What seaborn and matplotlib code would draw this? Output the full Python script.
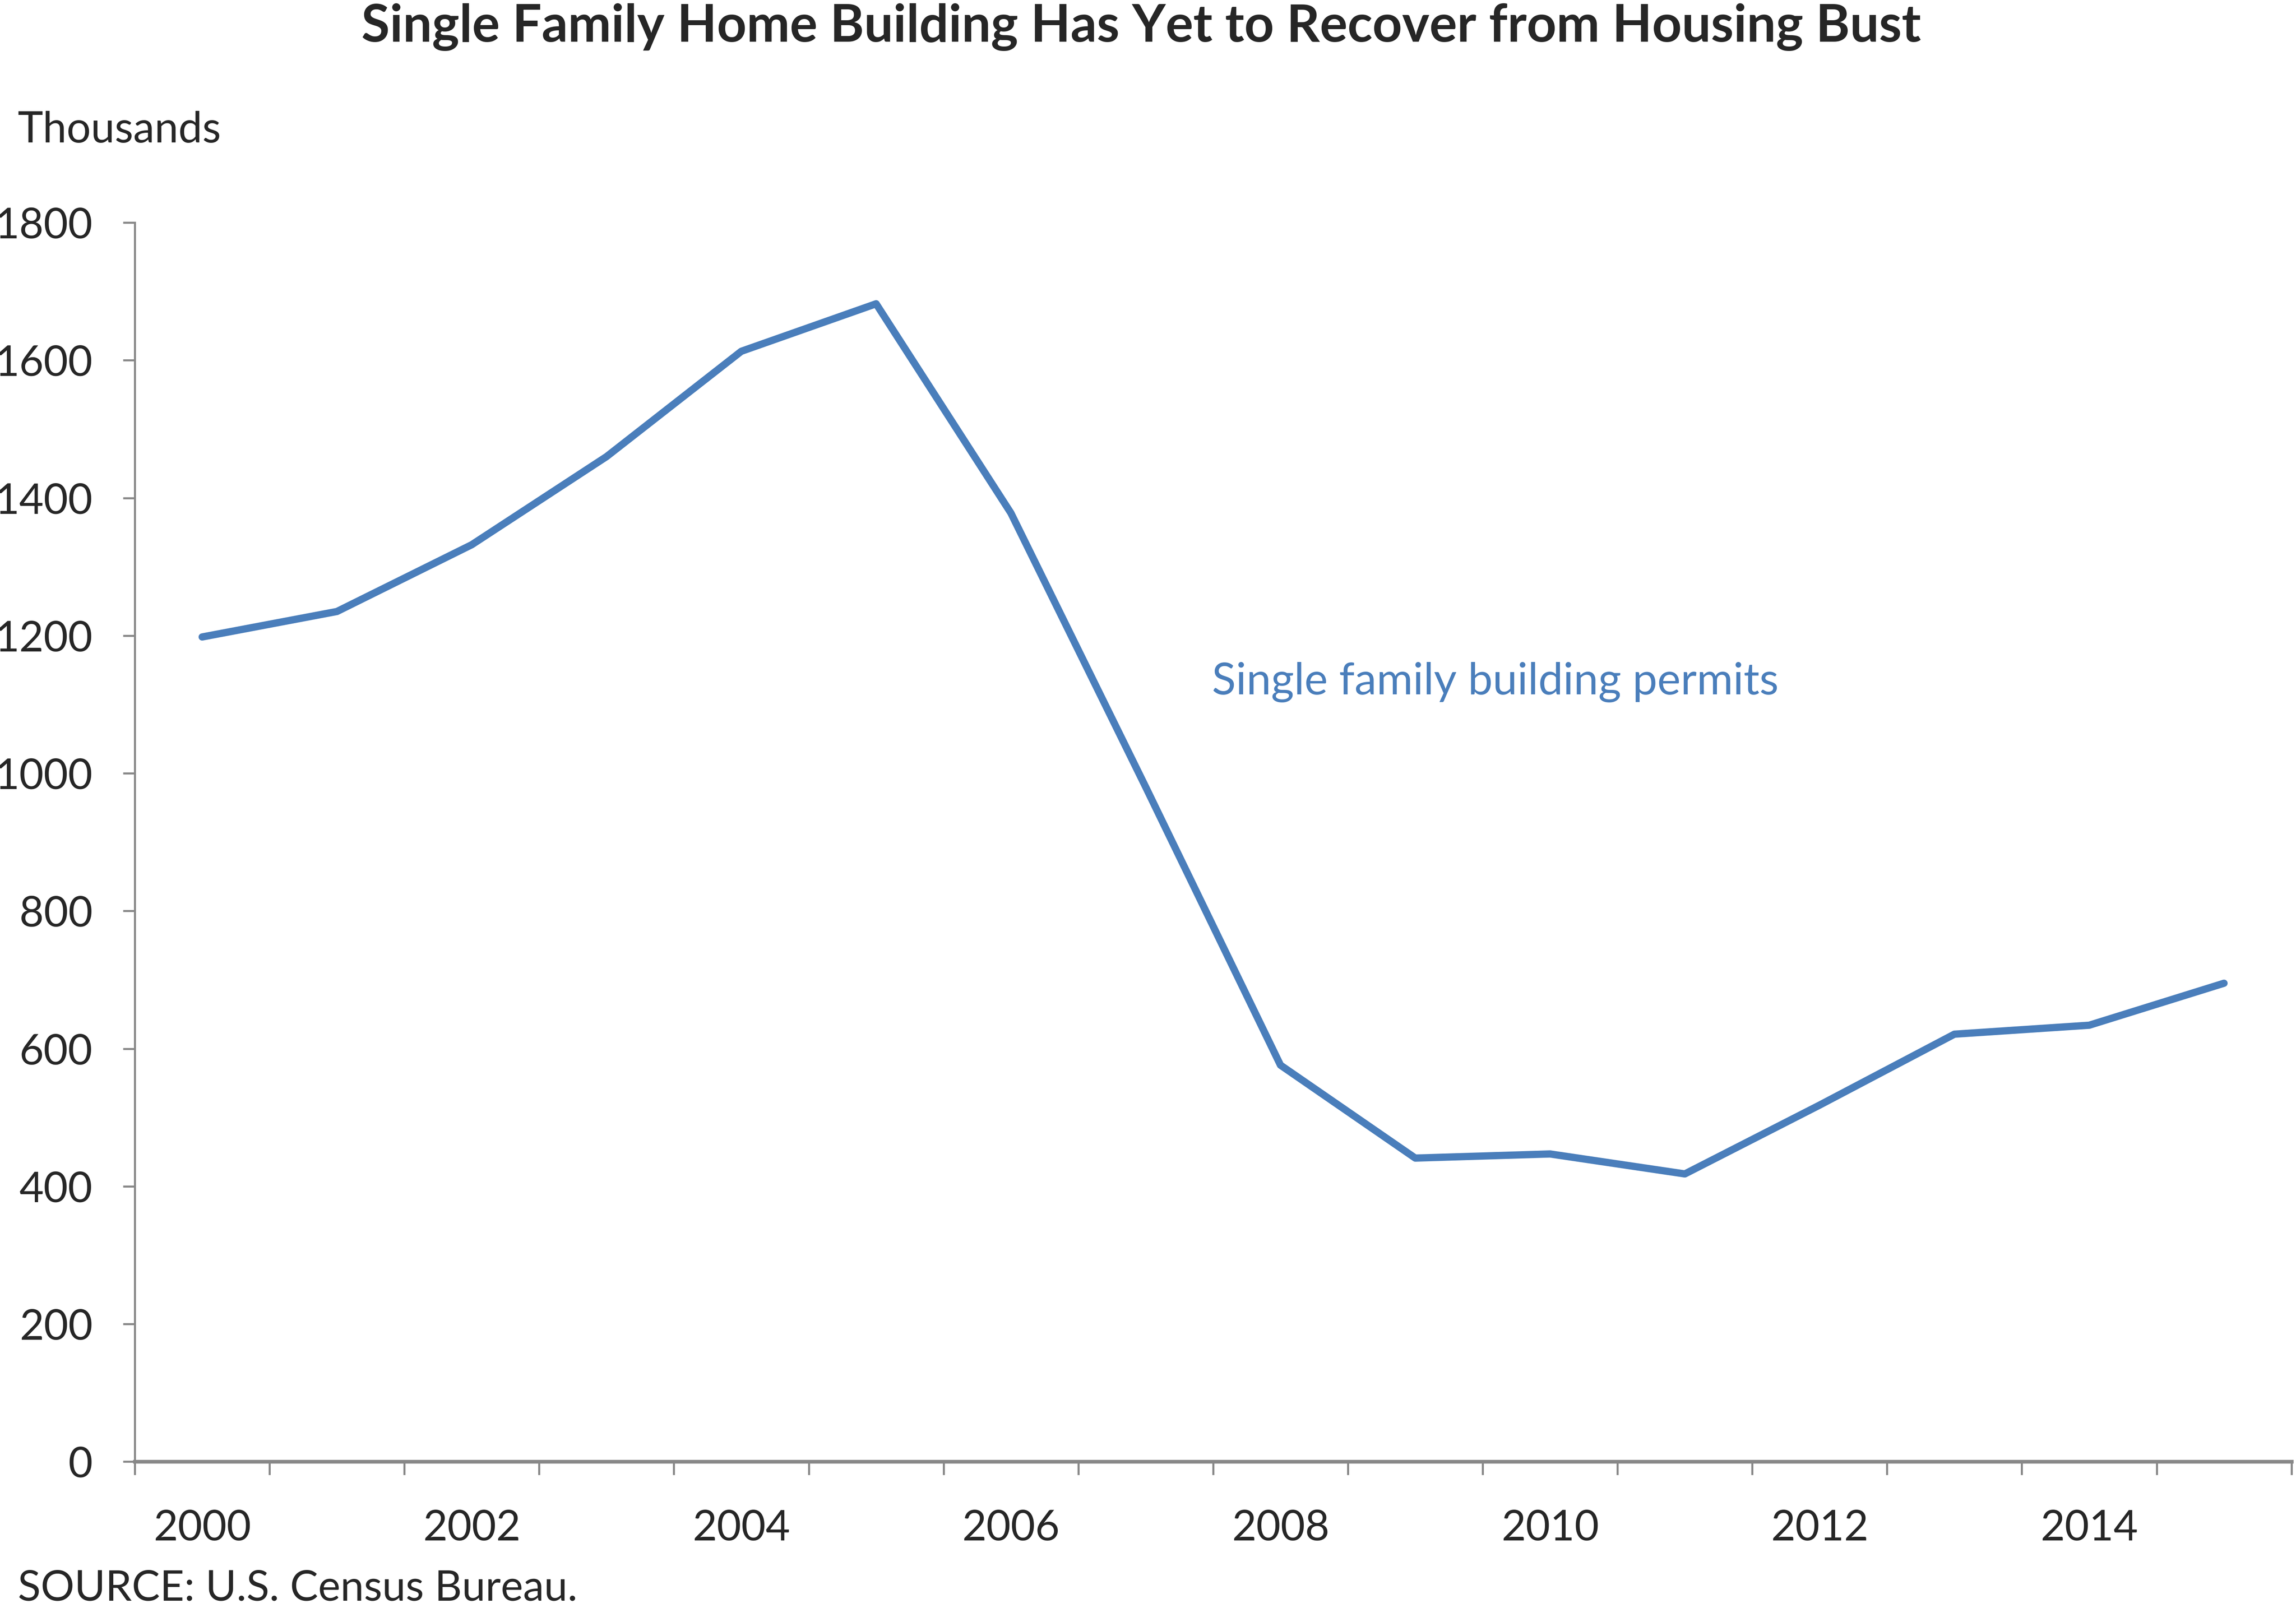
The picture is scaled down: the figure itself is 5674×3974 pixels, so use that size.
import numpy as np
import pandas as pd
import seaborn as sns
import matplotlib.pyplot as plt
import matplotlib.ticker as ticker

# Data: single family building permits, thousands
years = [2000, 2001, 2002, 2003, 2004, 2005, 2006, 2007,
         2008, 2009, 2010, 2011, 2012, 2013, 2014, 2015]
permits = [1198, 1235, 1332, 1460, 1613, 1682, 1378, 980,
           576, 441, 447, 418, 518, 621, 634, 695]
year_labels = ['2000', '2002', '2004', '2006', '2008', '2010', '2012', '2014']

df = pd.DataFrame({'Year': years, 'Permits': permits})

sns.set_style('white')
plt.rcParams['font.family'] = ['Lato', 'DejaVu Sans']

line_color = '#4a7ebb'
axis_color = '#888888'

fig = plt.figure(figsize=(5674 / 300, 3974 / 300), dpi=300)
ax = fig.add_axes([0.0587, 0.091, 0.9393, 0.7706])

sns.lineplot(data=df, x='Year', y='Permits', ax=ax, color=line_color, linewidth=4.3)

ax.set_xlim(1999.5, 2015.5)
ax.set_ylim(0, 1800)

# year labels every other year, tick marks between categories
ax.xaxis.set_major_locator(ticker.FixedLocator([int(y) for y in year_labels]))
ax.set_xticklabels(year_labels)
ax.xaxis.set_minor_locator(ticker.FixedLocator(np.arange(1999.5, 2016, 1)))
ax.tick_params(axis='x', which='major', length=0, pad=28, labelsize=25)
ax.tick_params(axis='x', which='minor', length=8, width=1.2, color=axis_color, direction='out', bottom=True)
ax.yaxis.set_major_locator(ticker.MultipleLocator(200))
ax.tick_params(axis='y', which='major', length=7, width=1.2, color=axis_color, direction='out',
               left=True, pad=18, labelsize=25)

for side in ['top', 'right']:
    ax.spines[side].set_visible(False)
ax.spines['left'].set_color(axis_color)
ax.spines['left'].set_linewidth(1.2)
ax.spines['bottom'].set_color(axis_color)
ax.spines['bottom'].set_linewidth(2.2)

ax.set_xlabel('')
ax.set_ylabel('')

ax.text(2007.49, 1132, 'Single family building permits', color=line_color,
        fontsize=26.2, va='center', ha='left')

fig.text(0.497, 0.998, 'Single Family Home Building Has Yet to Recover from Housing Bust',
         ha='center', va='top', fontsize=30.7, fontweight='bold')
fig.text(0.0077, 0.919, 'Thousands', ha='left', va='center', fontsize=25.4)
fig.text(0.0077, 0.012, 'SOURCE: U.S. Census Bureau.', ha='left', va='center', fontsize=25)

fig.savefig('out.png', dpi=300)
